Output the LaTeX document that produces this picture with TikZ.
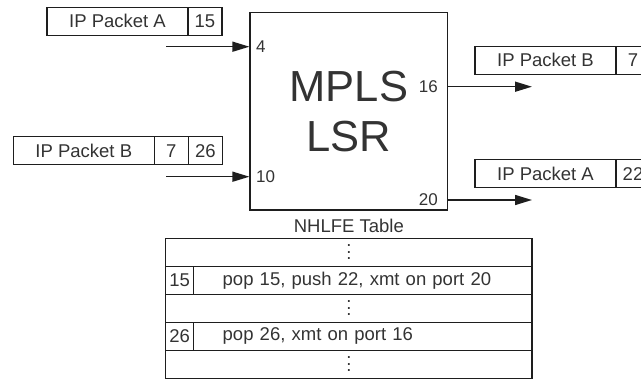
\documentclass[tikz,border=0pt]{standalone}
\usepackage{fontspec}
\setmainfont{Liberation Sans}
\usepackage{tikz}
\usetikzlibrary{arrows.meta,positioning,calc}
\definecolor{ink}{HTML}{1E1E1E}
\definecolor{inktext}{HTML}{333333}

\newcommand{\rowdots}{\vbox{\baselineskip6.5pt\lineskiplimit0pt\hbox{.}\hbox{.}\hbox{.}}}

\begin{document}
\begin{tikzpicture}[
  x=1pt, y=-1pt,
  font=\fontsize{18.5}{22}\selectfont,
  text=inktext,
  cell/.style={
    draw=ink, line width=1.1pt, minimum height=28pt,
    inner sep=0pt, outer sep=0pt, anchor=west
  },
  pkt/.style={cell, minimum width=141pt},
  lbl/.style={cell, minimum width=34pt},
  port/.style={font=\fontsize{17}{20}\selectfont, inner sep=0pt},
  arr/.style={-{Triangle[length=17pt,width=10pt]}, draw=ink, line width=1.5pt},
  trow/.style={cell, minimum width=366.3pt},
  tidx/.style={cell, minimum width=28pt},
  tact/.style={cell, minimum width=338.3pt, text width=280.3pt, align=left, inner xsep=29pt}
]

\clip (0,0) rectangle (641,380);

% incoming packets
\node[pkt] (inA) at (47,21.2) {IP Packet A};
\node[lbl, right=0pt of inA] (inA1) {15};

\node[pkt] (inB) at (13.3,150.8) {IP Packet B};
\node[lbl, right=0pt of inB] (inB1) {7};
\node[lbl, right=0pt of inB1] (inB2) {26};

% the router
\node[draw=ink, line width=1.3pt, minimum width=197.7pt, minimum height=197.3pt,
  align=center, font=\fontsize{43.5}{50}\selectfont] (lsr) at (348.9,111.3) {MPLS\\LSR};

\node[port, anchor=west] (p4)  at (256,47)    {4};
\node[port, anchor=west] (p10) at (256,176.7) {10};
\node[port, anchor=east] (p16) at (438,86.7)  {16};
\node[port, anchor=east] (p20) at (438,200)   {20};

\coordinate (srcA)  at (166,46.7);
\coordinate (srcB)  at (166,176.7);
\coordinate (dst16) at (532,86.7);
\coordinate (dst20) at (532,200);

\draw[arr] (srcA) -- (srcA -| lsr.west);
\draw[arr] (srcB) -- (srcB -| lsr.west);
\draw[arr] (lsr.east |- dst16) -- (dst16);
\draw[arr] (lsr.east |- dst20) -- (dst20);

% outgoing packets
\node[pkt] (outB) at (475,60.3) {IP Packet B};
\node[lbl, right=0pt of outB] (outB1) {7};

\node[pkt] (outA) at (475,173.7) {IP Packet A};
\node[lbl, right=0pt of outA] (outA1) {22};

% NHLFE table
\node[trow, anchor=north west] (r1) at (165.7,238.3) {\rowdots};
\node[tidx, below right=0pt and 0pt of r1.south west] (i15) {15};
\node[tact, right=0pt of i15] (a15) {pop 15, push 22, xmt on port 20};
\node[trow, below right=0pt and 0pt of i15.south west] (r3) {\rowdots};
\node[tidx, below right=0pt and 0pt of r3.south west] (i26) {26};
\node[tact, right=0pt of i26] (a26) {pop 26, xmt on port 16};
\node[trow, below right=0pt and 0pt of i26.south west] (r5) {\rowdots};

\node[inner sep=2pt, above=3pt of r1] (title) {NHLFE Table};

\end{tikzpicture}
\end{document}
